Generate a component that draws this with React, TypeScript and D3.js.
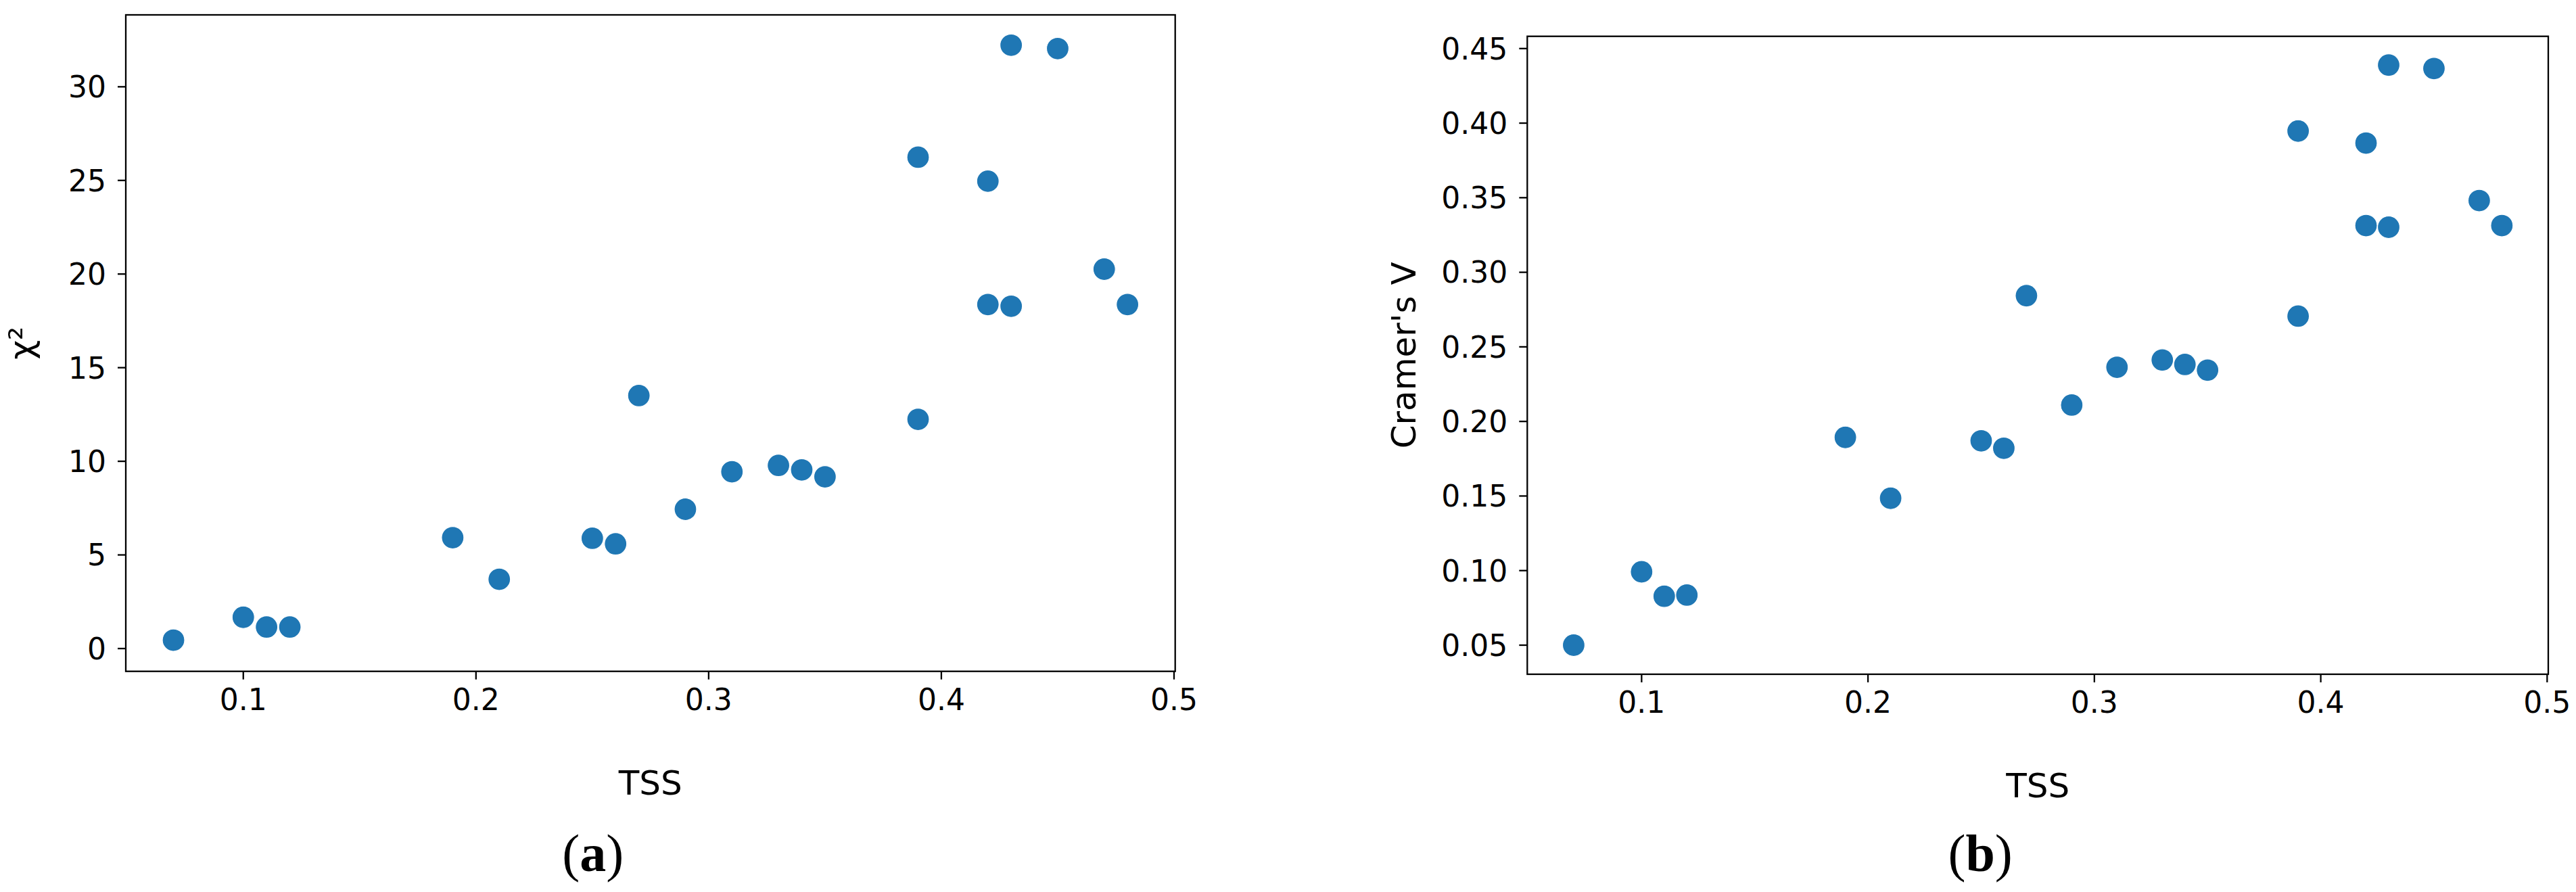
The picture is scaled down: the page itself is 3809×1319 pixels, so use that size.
import React from "react";
import * as d3 from "d3";

const tss = [0.07, 0.1, 0.11, 0.12, 0.19, 0.21, 0.25, 0.26, 0.27, 0.29, 0.31, 0.33, 0.34, 0.35, 0.39, 0.39, 0.42, 0.42, 0.43, 0.43, 0.45, 0.47, 0.48];
const chi2 = [0.45, 1.67, 1.15, 1.15, 5.92, 3.7, 5.89, 5.59, 13.51, 7.44, 9.44, 9.78, 9.54, 9.17, 12.24, 26.24, 24.96, 18.37, 32.22, 18.28, 32.04, 20.26, 18.37];
const cramersV = [0.05, 0.0992, 0.0828, 0.0836, 0.1893, 0.1485, 0.187, 0.182, 0.2843, 0.211, 0.2363, 0.2412, 0.2382, 0.2344, 0.2706, 0.3947, 0.3866, 0.3313, 0.4389, 0.3302, 0.4366, 0.3481, 0.3313];

const xTicks = [0.1, 0.2, 0.3, 0.4, 0.5];
const chiTicks = [0, 5, 10, 15, 20, 25, 30];
const vTicks = [0.05, 0.1, 0.15, 0.2, 0.25, 0.3, 0.35, 0.4, 0.45];

const COLOR = "#1f77b4";
const SANS = "DejaVu Sans";
const SERIF = "Liberation Serif";

type PanelProps = {
  x0: number; x1: number; y0: number; y1: number;
  yDomain: [number, number];
  ys: number[];
  yTicks: number[];
  yFmt: (v: number) => string;
  yLabel: string;
  yLabelX: number;
  xLabelY: number;
  tickLabelY: number;
  caption: string;
};

function Panel(p: PanelProps) {
  const x = d3.scaleLinear().domain([0.0495, 0.5005]).range([p.x0, p.x1]);
  const y = d3.scaleLinear().domain(p.yDomain).range([p.y1, p.y0]);
  const fx = d3.format(".1f");
  const tickLen = 12;
  const cx = (p.x0 + p.x1) / 2;
  const cy = (p.y0 + p.y1) / 2;
  return (
    <g>
      {tss.map((t, i) => (
        <circle key={i} cx={x(t)} cy={y(p.ys[i])} r={16.5} fill={COLOR} stroke="#ffffff" strokeWidth={1.2} />
      ))}
      <rect x={p.x0} y={p.y0} width={p.x1 - p.x0} height={p.y1 - p.y0} fill="none" stroke="#000" strokeWidth={2.3} />
      {xTicks.map((t) => (
        <g key={"x" + t}>
          <line x1={x(t)} x2={x(t)} y1={p.y1} y2={p.y1 + tickLen} stroke="#000" strokeWidth={2.3} />
          <text x={x(t)} y={p.tickLabelY} textAnchor="middle" fontFamily={SANS} fontSize={44}>{fx(t)}</text>
        </g>
      ))}
      {p.yTicks.map((t) => (
        <g key={"y" + t}>
          <line x1={p.x0 - tickLen} x2={p.x0} y1={y(t)} y2={y(t)} stroke="#000" strokeWidth={2.3} />
          <text x={p.x0 - tickLen - 17} y={y(t)} dy="0.36em" textAnchor="end" fontFamily={SANS} fontSize={44}>{p.yFmt(t)}</text>
        </g>
      ))}
      <text x={cx} y={p.xLabelY} textAnchor="middle" fontFamily={SANS} fontSize={50}>TSS</text>
      <text transform={`translate(${p.yLabelX},${cy}) rotate(-90)`} textAnchor="middle" fontFamily={SANS} fontSize={50}>{p.yLabel}</text>
      <text x={cx - 85} y={1288} textAnchor="middle" fontFamily={SERIF} fontSize={78}>
        (<tspan fontWeight="bold">{p.caption}</tspan>)
      </text>
    </g>
  );
}

export default function App() {
  return (
    <div style={{ position: "absolute", left: 0, top: 0 }}>
      <svg width={3809} height={1319} style={{ display: "block", background: "#fff" }}>
        <Panel
          x0={186} x1={1737.7} y0={22} y1={992.7}
          yDomain={[-1.217, 33.84]}
          ys={chi2}
          yTicks={chiTicks}
          yFmt={(v) => String(v)}
          yLabel="χ²"
          yLabelX={49}
          xLabelY={1175}
          tickLabelY={1050}
          caption="a"
        />
        <Panel
          x0={2258.3} x1={3768} y0={53.7} y1={997}
          yDomain={[0.0305, 0.4582]}
          ys={cramersV}
          yTicks={vTicks}
          yFmt={d3.format(".2f")}
          yLabel="Cramer's V"
          yLabelX={2093}
          xLabelY={1179}
          tickLabelY={1054}
          caption="b"
        />
      </svg>
    </div>
  );
}
